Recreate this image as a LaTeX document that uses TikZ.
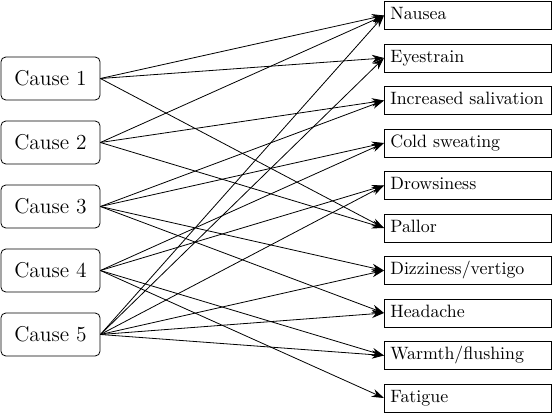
\documentclass[tikz,border=0pt]{standalone}
\usetikzlibrary{arrows.meta}
\begin{document}
\begin{tikzpicture}[x=0.5596pt,y=-0.5596pt,
  causebox/.style={draw, rounded corners=2.6pt, minimum width=55.4pt, minimum height=24pt, inner sep=0pt, font=\large, line width=0.45pt},
  symbox/.style={draw, anchor=west, text width=86.6pt, align=left, inner xsep=3.33pt, inner ysep=0pt, minimum height=15.6pt, text height=6.9pt, text depth=1.9pt, line width=0.45pt},
  link/.style={line width=0.45pt, -{Stealth[length=6.8pt, width=4.6pt]}}]
\useasboundingbox (0,0) rectangle (556,414);
\node[causebox] (c1) at (50.5,78.5) {Cause 1};
\node[causebox] (c2) at (50.5,142.5) {Cause 2};
\node[causebox] (c3) at (50.5,206.5) {Cause 3};
\node[causebox] (c4) at (50.5,270.5) {Cause 4};
\node[causebox] (c5) at (50.5,334.5) {Cause 5};
\node[symbox] (s1) at (384,15.5) {Nausea};
\node[symbox] (s2) at (384,58) {Eyestrain};
\node[symbox] (s3) at (384,100.5) {Increased salivation};
\node[symbox] (s4) at (384,143) {Cold sweating};
\node[symbox] (s5) at (384,185.5) {Drowsiness};
\node[symbox] (s6) at (384,228) {Pallor};
\node[symbox] (s7) at (384,270.5) {Dizziness/vertigo};
\node[symbox] (s8) at (384,313) {Headache};
\node[symbox] (s9) at (384,355.5) {Warmth/flushing};
\node[symbox] (s10) at (384,398) {Fatigue};
\foreach \a/\b in {c1/s1,c1/s2,c1/s6,
                   c2/s1,c2/s3,c2/s6,
                   c3/s3,c3/s4,c3/s7,c3/s8,
                   c4/s4,c4/s5,c4/s9,c4/s10,
                   c5/s1,c5/s2,c5/s5,c5/s7,c5/s8,c5/s9}
  \draw[link] (\a.east) -- (\b.west);
\end{tikzpicture}
\end{document}
